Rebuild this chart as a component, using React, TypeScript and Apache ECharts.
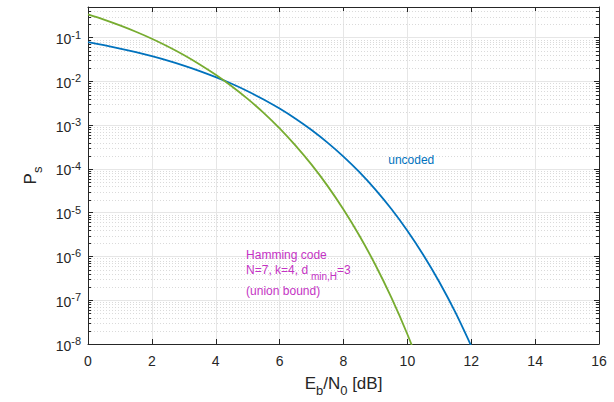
import React, { useEffect, useRef } from 'react';
import * as echarts from 'echarts';

// Eb/N0 [dB] sample positions
const ebn0Uncoded = [0, 0.5, 1, 1.5, 2, 2.5, 3, 3.5, 4, 4.5, 5, 5.5, 6, 6.5, 7, 7.5, 8, 8.5, 9, 9.5, 10, 10.5, 11, 11.5, 12];
const psUncoded = [0.0787, 0.0671, 0.0563, 0.0464, 0.0375, 0.0297, 0.0229, 0.0172, 0.0125, 0.0088, 0.00595, 0.00386, 0.00239, 0.0014, 7.73e-4, 3.99e-4, 1.91e-4, 8.4e-5, 3.36e-5, 1.21e-5, 3.87e-6, 1.08e-6, 2.61e-7, 5.33e-8, 9.0e-9];

const ebn0Hamming = [0, 0.5, 1, 1.5, 2, 2.5, 3, 3.5, 4, 4.5, 5, 5.5, 6, 6.5, 7, 7.5, 8, 8.5, 9, 9.5, 10, 10.5];
const psHamming = [0.34, 0.258, 0.19, 0.136, 0.0942, 0.0627, 0.0401, 0.0244, 0.01415, 0.00774, 0.00398, 0.00191, 8.45e-4, 3.41e-4, 1.25e-4, 4.1e-5, 1.18e-5, 2.97e-6, 6.37e-7, 1.14e-7, 1.67e-8, 1.95e-9];

const xMin = 0;
const xMax = 16;
const xInterval = 2;
const yMin = 1e-8;
const yMax = 0.5;
const yDecades = [-8, -7, -6, -5, -4, -3, -2, -1];
const minorMultipliers = [2, 3, 4, 5, 6, 7, 8, 9];

const FONT = 'Liberation Sans, Arial, Helvetica, sans-serif';
const AXIS = '#262626';
const BLUE = '#0072BD';
const GREEN = '#77AC30';
const MAGENTA = '#C433C4';

export default function App() {
  const ref = useRef<HTMLDivElement>(null);
  useEffect(() => {
    document.body.style.margin = '0';
    if (!ref.current) return;
    const chart = echarts.init(ref.current, undefined, { renderer: 'svg' });

    const minorValues: number[][] = [];
    yDecades.forEach((e) => {
      minorMultipliers.forEach((m) => {
        const v = m * Math.pow(10, e);
        if (v < yMax * 0.999) minorValues.push([0, v]);
      });
    });

    const uncodedData = ebn0Uncoded.map((x, i) => [x, psUncoded[i]]);
    const hammingData = ebn0Hamming.map((x, i) => [x, psHamming[i]]);

    const labelStyle = (color: string) => ({
      show: true,
      position: [0, 0],
      align: 'left',
      verticalAlign: 'middle',
      color,
      fontFamily: FONT,
      fontSize: 12,
    });

    const nameRich = {
      m: { fontSize: 17, color: AXIS, fontFamily: FONT, padding: [0, 0, 5, 0], verticalAlign: 'bottom' },
      s: { fontSize: 13, color: AXIS, fontFamily: FONT, verticalAlign: 'bottom' },
    };

    chart.setOption({
      animation: false,
      backgroundColor: '#ffffff',
      grid: { left: 88, right: 15, top: 7, bottom: 56, containLabel: false },
      xAxis: [
        {
          type: 'value',
          min: xMin,
          max: xMax,
          interval: xInterval,
          position: 'bottom',
          name: '{m|E}{s|b}{m|/N}{s|0}{m| [dB]}',
          nameLocation: 'middle',
          nameGap: 31,
          nameTextStyle: { color: AXIS, fontFamily: FONT, rich: nameRich },
          axisLine: { show: true, onZero: false, lineStyle: { color: AXIS, width: 1 } },
          axisTick: { show: true, inside: true, length: 5, lineStyle: { color: AXIS } },
          axisLabel: { color: AXIS, fontFamily: FONT, fontSize: 14, margin: 10 },
          splitLine: { show: true, lineStyle: { color: '#e6e6e6', width: 1 } },
        },
        {
          type: 'value',
          min: xMin,
          max: xMax,
          interval: xInterval,
          position: 'top',
          axisLine: { show: true, onZero: false, lineStyle: { color: AXIS, width: 1 } },
          axisTick: { show: true, inside: true, length: 5, lineStyle: { color: AXIS } },
          axisLabel: { show: false },
          splitLine: { show: false },
        },
      ],
      yAxis: [
        {
          type: 'log',
          logBase: 10,
          min: yMin,
          max: yMax,
          position: 'left',
          name: '{m|P}{s|s}',
          nameLocation: 'middle',
          nameGap: 44,
          nameTextStyle: { color: AXIS, fontFamily: FONT, rich: nameRich },
          axisLine: { show: true, onZero: false, lineStyle: { color: AXIS, width: 1 } },
          axisTick: { show: true, inside: true, length: 5, lineStyle: { color: AXIS } },
          axisLabel: {
            margin: 7,
            formatter: (v: number) => {
              const e = Math.log10(v);
              const r = Math.round(e);
              if (Math.abs(e - r) > 1e-6) return '';
              return `{b|10}{e|${r}}`;
            },
            rich: {
              b: { fontSize: 14, color: AXIS, fontFamily: FONT, verticalAlign: 'bottom' },
              e: { fontSize: 11, color: AXIS, fontFamily: FONT, padding: [0, 0, 6, 0], verticalAlign: 'bottom' },
            },
          },
          splitLine: { show: true, lineStyle: { color: '#e6e6e6', width: 1 } },
        },
        {
          type: 'log',
          logBase: 10,
          min: yMin,
          max: yMax,
          position: 'right',
          axisLine: { show: true, onZero: false, lineStyle: { color: AXIS, width: 1 } },
          axisTick: { show: true, inside: true, length: 5, lineStyle: { color: AXIS } },
          axisLabel: { show: false },
          splitLine: { show: false },
        },
      ],
      series: [
        {
          type: 'custom',
          xAxisIndex: 0,
          yAxisIndex: 0,
          z: 1,
          silent: true,
          data: minorValues,
          renderItem: (params: any, api: any) => {
            const cs = params.coordSys;
            const p = api.coord([api.value(0), api.value(1)]);
            const y = Math.round(p[1]) + 0.5;
            const x0 = cs.x;
            const x1 = cs.x + cs.width;
            return {
              type: 'group',
              children: [
                {
                  type: 'line',
                  shape: { x1: x0, y1: y, x2: x1, y2: y },
                  style: { stroke: '#dadada', lineWidth: 1, lineDash: [1, 2] },
                },
                {
                  type: 'line',
                  shape: { x1: x0, y1: y, x2: x0 + 3, y2: y },
                  style: { stroke: AXIS, lineWidth: 1 },
                },
                {
                  type: 'line',
                  shape: { x1: x1 - 3, y1: y, x2: x1, y2: y },
                  style: { stroke: AXIS, lineWidth: 1 },
                },
              ],
            };
          },
        },
        {
          type: 'line',
          name: 'uncoded',
          xAxisIndex: 0,
          yAxisIndex: 0,
          z: 3,
          data: uncodedData,
          showSymbol: false,
          smooth: 0.3,
          clip: true,
          lineStyle: { color: BLUE, width: 1.8 },
          itemStyle: { color: BLUE },
          markPoint: {
            symbol: 'circle',
            symbolSize: 0,
            silent: true,
            data: [
              {
                coord: [9.4, 1.6e-4],
                label: { ...labelStyle(BLUE), formatter: 'uncoded' },
              },
            ],
          },
        },
        {
          type: 'line',
          name: 'Hamming code',
          xAxisIndex: 0,
          yAxisIndex: 0,
          z: 3,
          data: hammingData,
          showSymbol: false,
          smooth: 0.3,
          clip: true,
          lineStyle: { color: GREEN, width: 1.8 },
          itemStyle: { color: GREEN },
          markPoint: {
            symbol: 'circle',
            symbolSize: 0,
            silent: true,
            data: [
              {
                coord: [4.95, 1.06e-6],
                label: { ...labelStyle(MAGENTA), formatter: 'Hamming code' },
              },
              {
                coord: [4.95, 4.2e-7],
                label: {
                  ...labelStyle(MAGENTA),
                  formatter: '{m|N=7, k=4, d}{s| min,H}{m|=3}',
                  rich: {
                    m: { fontSize: 12, color: MAGENTA, fontFamily: FONT, padding: [0, 0, 5, 0], verticalAlign: 'bottom' },
                    s: { fontSize: 10, color: MAGENTA, fontFamily: FONT, verticalAlign: 'bottom' },
                  },
                },
              },
              {
                coord: [4.95, 1.61e-7],
                label: { ...labelStyle(MAGENTA), formatter: '(union bound)' },
              },
            ],
          },
        },
      ],
    });
    return () => chart.dispose();
  }, []);
  return <div ref={ref} style={{ width: 614, height: 402 }} />;
}
